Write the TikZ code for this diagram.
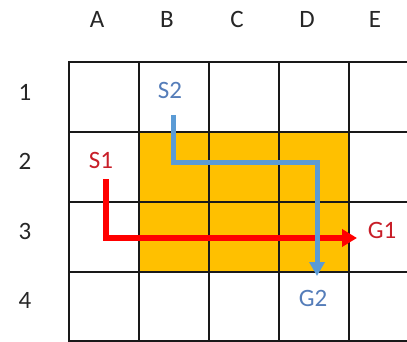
\documentclass[tikz,border=0pt]{standalone}
\usepackage{fontspec}
\setmainfont{Carlito}
\usetikzlibrary{arrows.meta}
\definecolor{gold}{RGB}{255,192,0}
\definecolor{pathblue}{RGB}{91,155,213}
\definecolor{pathred}{RGB}{255,0,0}
\definecolor{txtred}{RGB}{200,30,40}
\definecolor{txtblue}{RGB}{85,125,185}
\definecolor{gridline}{RGB}{25,25,25}
\tikzset{
  axislbl/.style={font=\fontsize{25}{25}\selectfont, text=black!85, inner sep=0pt},
  ptlbl/.style={font=\fontsize{25}{25}\selectfont, inner sep=0pt},
  gridstyle/.style={draw=gridline, line width=2.4pt},
  redpath/.style={draw=pathred, line width=5.5pt, -{Triangle[length=15pt,width=17pt]}},
  bluepath/.style={draw=pathblue, line width=5pt, -{Triangle[length=14pt,width=15pt]}}
}
\begin{document}
\begin{tikzpicture}[x=1pt,y=-1pt]
\useasboundingbox (0,0) rectangle (407,342);
\begin{scope}
\clip (0,0) rectangle (407,342);
% orange block
\fill[gold] (139,132) rectangle (349,272);
% grid
\foreach \xx in {69,139,209,279,349} \draw[gridstyle] (\xx,62) -- (\xx,343);
\foreach \yy in {62,132,202,272,341} \draw[gridstyle] (68,\yy) -- (420,\yy);
\end{scope}
% column labels
\node[axislbl] (cA) at (97,19) {A};
\node[axislbl] (cB) at (167,19) {B};
\node[axislbl] (cC) at (237,19) {C};
\node[axislbl] (cD) at (307,19) {D};
\node[axislbl] (cE) at (375,19) {E};
% row labels
\node[axislbl] (r1) at (25,92) {1};
\node[axislbl] (r2) at (25,161) {2};
\node[axislbl] (r3) at (25,231) {3};
\node[axislbl] (r4) at (25,300) {4};
% point labels
\node[ptlbl, text=txtred] (S1) at (101,160) {S1};
\node[ptlbl, text=txtblue] (S2) at (170,90) {S2};
\node[ptlbl, text=txtred] (G1) at (382,230) {G1};
\node[ptlbl, text=txtblue] (G2) at (313,298) {G2};
% path coordinates
\coordinate (s1a) at (106,179);
\coordinate (s1b) at (106,238);
\coordinate (g1a) at (357,238);
\coordinate (s2a) at (173,115);
\coordinate (s2b) at (173,163);
\coordinate (s2c) at (317,163);
\coordinate (g2a) at (317,276);
% paths
\draw[redpath] (s1a) -- (s1b) -- (g1a);
\draw[bluepath] (s2a) -- (s2b) -- (s2c) -- (g2a);
\end{tikzpicture}
\end{document}
